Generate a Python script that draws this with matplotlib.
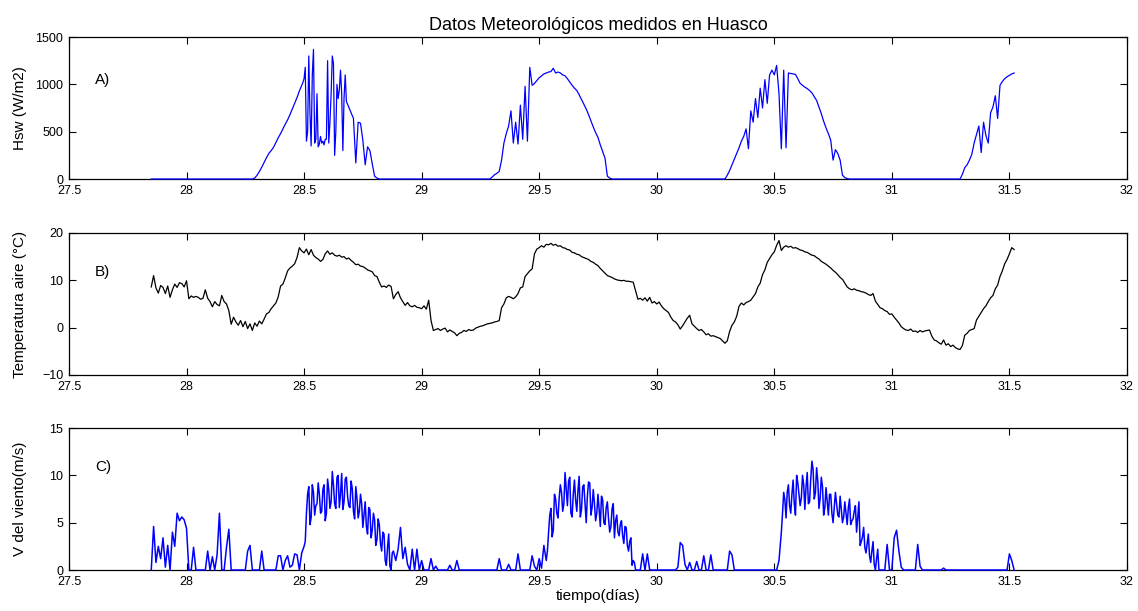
import matplotlib
matplotlib.use('Agg')
import matplotlib.pyplot as plt
import numpy as np

plt.rcParams['font.family'] = ['Liberation Sans', 'DejaVu Sans']

# muestras cada 0.01 dias desde el dia 27.85
t_start = 27.85
dt = 0.01

# radiacion de onda corta (W/m2)
hsw = [
    0, 0, 0, 0, 0, 0, 0, 0, 0, 0,
    0, 0, 0, 0, 0, 0, 0, 0, 0, 0,
    0, 0, 0, 0, 0, 0, 0, 0, 0, 0,
    0, 0, 0, 0, 0, 0, 0, 0, 0, 0,
    0, 0, 0, 0, 10, 40, 80, 125, 175, 225,
    270, 300, 335, 385, 435, 480, 530, 580, 625, 680,
    740, 800, 860, 930, 990, 1060, 400, 1300, 350, 1370,
    420, 340, 450, 400, 420, 1250, 600, 1300, 250, 1000,
    945, 900, 860, 820, 760, 700, 640, 170, 600, 590,
    410, 150, 340, 300, 160, 30, 10, 0, 0, 0,
    0, 0, 0, 0, 0, 0, 0, 0, 0, 0,
    0, 0, 0, 0, 0, 0, 0, 0, 0, 0,
    0, 0, 0, 0, 0, 0, 0, 0, 0, 0,
    0, 0, 0, 0, 0, 0, 0, 0, 0, 0,
    0, 0, 0, 0, 0, 20, 45, 60, 80, 200,
    380, 480, 560, 720, 380, 600, 370, 780, 420, 980,
    400, 1180, 990, 1010, 1040, 1070, 1090, 1110, 1120, 1130,
    1135, 1170, 1120, 1130, 1120, 1100, 1090, 1060, 1025, 990,
    960, 935, 890, 840, 790, 740, 680, 615, 550, 490,
    440, 360, 290, 220, 30, 10, 0, 0, 0, 0,
    0, 0, 0, 0, 0, 0, 0, 0, 0, 0,
    0, 0, 0, 0, 0, 0, 0, 0, 0, 0,
    0, 0, 0, 0, 0, 0, 0, 0, 0, 0,
    0, 0, 0, 0, 0, 0, 0, 0, 0, 0,
    0, 0, 0, 0, 0, 40, 90, 150, 210, 270,
    330, 400, 450, 530, 320, 720, 600, 850, 650, 960,
    750, 1050, 800, 1100, 1150, 1100, 1200, 900, 320, 1150,
    330, 1120, 1115, 1110, 1105, 1060, 1010, 990, 970, 955,
    935, 910, 870, 830, 760, 690, 610, 540, 480, 410,
    200, 310, 270, 200, 40, 15, 5, 0, 0, 0,
    0, 0, 0, 0, 0, 0, 0, 0, 0, 0,
    0, 0, 0, 0, 0, 0, 0, 0, 0, 0,
    0, 0, 0, 0, 0, 0, 0, 0, 0, 0,
    0, 0, 0, 0, 0, 0, 0, 0, 0, 0,
    0, 0, 0, 0, 0, 50, 120, 150, 200, 260,
    380, 470, 560, 280, 600, 460, 380, 700, 760, 880,
    640, 990, 1030, 1060, 1080, 1095, 1110, 1120,
]

# radiacion, muestras intermedias en la zona de nubes del dia 28.5
hsw_mid_start = 28.495
hsw_mid = [1020, 1180, 500, 700, 1100, 380, 900, 370, 380, 360,
           420, 380, 900, 1220, 500, 850, 1150, 300, 1100]

# temperatura del aire (C)
temp = [
    8.6, 11.0, 8.4, 7.3, 8.9, 8.5, 7.2, 8.8, 6.4, 8.0,
    9.2, 8.5, 9.5, 9.3, 8.6, 9.9, 6.1, 6.7, 6.4, 6.6,
    6.4, 6.0, 6.2, 8.0, 6.2, 5.5, 4.4, 5.5, 4.9, 4.6,
    6.8, 5.5, 5.0, 3.6, 0.7, 2.2, 1.2, 0.5, 1.5, 0.2,
    1.3, -0.2, 0.8, -0.6, 1.0, 0.3, 1.4, 0.8, 1.8, 2.9,
    3.2, 4.0, 4.6, 5.2, 6.5, 8.8, 9.2, 10.5, 12.0, 12.6,
    13.0, 13.5, 14.8, 16.9, 16.2, 15.8, 16.6, 15.4, 16.5, 15.3,
    14.8, 14.5, 14.0, 14.4, 15.6, 16.2, 15.5, 15.8, 15.3, 15.1,
    15.3, 14.9, 15.0, 14.5, 14.7, 14.2, 13.8, 13.3, 13.4, 13.0,
    12.9, 12.6, 12.2, 12.0, 11.8, 11.0, 10.8, 9.6, 8.6, 8.8,
    8.5, 9.0, 8.7, 6.1, 7.0, 7.6, 6.3, 5.5, 4.7, 5.3,
    4.6, 4.4, 4.7, 4.3, 4.2, 4.0, 4.6, 3.9, 5.8, 1.5,
    -0.6, -0.4, -0.2, -0.6, -0.3, -0.1, -0.9, -0.5, -0.8, -1.1,
    -1.7, -1.2, -1.0, -0.6, -0.8, -0.4, -0.6, -0.5, -0.1, 0.1,
    0.3, 0.4, 0.6, 0.8, 0.9, 1.0, 1.2, 1.3, 1.5, 4.2,
    5.0, 6.3, 6.6, 6.4, 6.1, 6.5, 7.2, 8.4, 8.6, 10.8,
    11.4, 12.0, 12.4, 15.6, 16.6, 16.9, 17.3, 17.0, 17.6, 17.5,
    17.8, 17.4, 17.6, 17.2, 17.3, 16.9, 16.8, 16.5, 16.4, 15.9,
    15.8, 15.5, 15.4, 15.0, 14.8, 14.6, 14.4, 14.0, 13.8, 13.4,
    13.1, 12.5, 12.0, 11.5, 11.0, 10.8, 10.6, 10.3, 10.1, 10.0,
    9.9, 10.0, 9.8, 9.8, 9.7, 9.6, 7.8, 6.0, 6.2, 5.8,
    6.3, 5.6, 6.4, 5.2, 5.5, 5.0, 5.4, 4.6, 4.0, 3.6,
    3.2, 2.2, 1.5, 1.2, 0.6, -0.3, 0.4, 1.2, 2.0, 2.6,
    0.8, 0.3, -0.2, -0.6, -0.4, -0.9, -1.5, -1.3, -1.8, -1.7,
    -1.9, -2.1, -2.3, -2.8, -3.3, -2.8, -0.8, 0.5, 1.2, 2.4,
    4.5, 5.2, 4.8, 5.3, 5.5, 5.8, 6.5, 7.2, 8.6, 9.4,
    11.2, 12.2, 13.8, 14.6, 15.4, 16.0, 17.4, 18.4, 16.3, 17.0,
    17.3, 17.0, 17.2, 16.8, 16.9, 16.7, 16.4, 16.3, 16.0, 15.9,
    15.6, 15.3, 15.2, 14.8, 14.5, 14.0, 13.7, 13.4, 13.0, 12.6,
    12.1, 11.7, 11.2, 10.6, 10.2, 9.4, 8.6, 8.2, 8.0, 8.2,
    7.9, 7.8, 7.6, 7.5, 7.3, 7.0, 6.8, 7.2, 5.6, 4.9,
    4.2, 4.0, 3.6, 3.4, 2.8, 2.9, 2.2, 1.6, 1.0, 0.2,
    -0.2, -0.5, -0.6, -0.3, -0.8, -0.7, -1.0, -0.6, -0.9, -0.7,
    -0.6, -0.5, -1.8, -2.6, -2.8, -3.2, -3.5, -2.6, -3.7, -3.4,
    -4.0, -3.7, -4.2, -4.5, -4.6, -3.8, -1.6, -1.2, -0.6, -0.4,
    -0.2, 1.6, 2.4, 3.2, 4.0, 4.6, 5.5, 6.3, 6.8, 8.2,
    9.0, 10.8, 12.0, 13.5, 14.4, 15.6, 16.9, 16.5,
]

# velocidad del viento (m/s)
wind = [
    0, 4.6, 0.8, 2.5, 1.2, 3.4, 0.3, 2.6, 0, 4.0,
    2.5, 6.0, 5.2, 5.6, 5.3, 4.4, 0, 0, 2.4, 0,
    0, 0, 0, 0, 2.0, 0, 1.4, 0, 1.6, 6.0,
    0, 0, 2.4, 4.3, 0, 0, 0, 0, 0, 0,
    0, 2.0, 2.6, 0, 0, 0, 0, 2.0, 0, 0,
    0, 0, 0, 0, 1.5, 1.5, 0, 1.0, 1.5, 0.3,
    0.5, 1.7, 1.6, 0, 1.8, 2.5, 6.0, 8.8, 5.5, 8.2,
    6.8, 9.2, 6.0, 8.5, 5.2, 9.6, 6.5, 10.4, 7.0, 9.8,
    6.6, 10.2, 7.2, 9.8, 6.8, 9.4, 6.2, 8.8, 5.5, 8.0,
    4.5, 7.2, 3.8, 6.4, 4.2, 5.3, 3.2, 4.8, 2.0, 3.8,
    0.5, 3.8, 0, 2.0, 1.0, 2.2, 4.5, 1.2, 2.4, 0.6,
    0, 2.2, 0, 2.2, 0, 1.0, 0, 0, 0, 1.2,
    0, 0.4, 0, 0, 0, 0, 0, 0.5, 0, 0,
    1.0, 0, 0, 0, 0, 0, 0, 0, 0, 0,
    0, 0, 0, 0, 0, 0, 0, 0, 1.2, 0,
    0, 0, 0.6, 0, 0, 0, 1.7, 0, 0, 0,
    0, 0, 1.5, 0.4, 0, 1.2, 0.2, 2.6, 1.0, 4.0,
    6.5, 4.2, 7.5, 5.5, 9.0, 6.2, 10.3, 6.8, 9.8, 5.6,
    9.5, 6.2, 9.9, 6.4, 9.0, 5.0, 9.3, 5.8, 8.5, 5.2,
    8.0, 4.6, 7.4, 4.8, 7.2, 4.0, 6.5, 3.4, 5.8, 3.6,
    5.2, 2.8, 4.5, 2.0, 3.4, 1.0, 0, 0, 0, 1.7,
    0, 1.7, 0, 0, 0, 0, 0, 0, 0, 0,
    0, 0, 0, 0, 0.3, 2.9, 2.6, 0.6, 0, 0.8,
    0, 0, 0.9, 0, 0, 1.5, 0, 0, 1.6, 0,
    0, 0, 0, 0, 0, 0, 2.0, 1.6, 0, 0,
    0, 0, 0, 0, 0, 0, 0, 0, 0, 0,
    0, 0, 0, 0, 0, 0, 0, 1.0, 4.0, 8.2,
    5.5, 9.0, 6.0, 9.5, 5.8, 9.2, 6.8, 10.0, 6.4, 10.3,
    7.2, 11.5, 7.5, 10.8, 6.5, 9.8, 5.8, 8.7, 5.8, 8.0,
    5.0, 8.2, 5.8, 7.8, 5.0, 7.2, 4.8, 7.5, 5.2, 6.2,
    4.0, 7.2, 3.0, 4.5, 1.8, 3.8, 0.8, 3.0, 0, 2.2,
    0, 0, 0, 2.7, 0, 0, 3.4, 4.2, 2.0, 0.3,
    0, 0, 0, 0, 0, 0, 2.7, 0.4, 0, 0,
    0, 0, 0, 0, 0, 0, 0, 0.2, 0, 0,
    0, 0, 0, 0, 0, 0, 0, 0, 0, 0,
    0, 0, 0, 0, 0, 0, 0, 0, 0, 0,
    0, 0, 0, 0, 0, 1.7, 1.0, 0,
]

# viento, muestras intermedias durante las horas de brisa
wind_mid1_start = 28.505
wind_mid1 = [3.0, 8.0, 4.8, 9.0, 5.8, 7.0, 8.0, 6.2, 9.0, 6.0,
             8.5, 7.2, 9.0, 6.5, 10.0, 8.0, 6.4, 9.6, 7.8, 6.6,
             8.6, 5.4, 7.6, 6.2, 7.0, 5.8, 4.6, 6.6, 3.4, 6.0,
             2.6, 5.4, 2.8, 4.0, 1.0, 2.4, 0.4, 1.8]
wind_mid2_start = 29.535
wind_mid2 = [2.0, 5.8, 3.5, 8.0, 6.0, 7.6, 8.2, 7.0, 8.6, 9.4,
             6.0, 8.0, 7.4, 8.4, 5.6, 8.8, 7.0, 7.8, 9.2, 6.6,
             7.0, 6.0, 6.4, 7.8, 5.0, 6.6, 5.4, 4.6, 7.0, 5.2,
             4.0, 4.8, 3.6, 4.6, 2.6, 3.0, 0.5, 0.8]
wind_mid3_start = 30.535
wind_mid3 = [6.0, 7.4, 8.2, 6.8, 8.0, 7.0, 10.0, 8.0, 7.6, 9.0,
             8.8, 7.0, 9.6, 10.6, 8.2, 9.4, 7.6, 8.8, 6.6, 7.2,
             8.0, 6.0, 6.6, 7.0, 5.6, 6.4, 5.6, 6.0, 6.6, 4.8,
             5.4, 6.8, 5.6, 2.6, 3.5, 2.4, 2.8, 1.5, 2.0, 0.6,
             1.2, 0]

xticks = [27.5, 28, 28.5, 29, 29.5, 30, 30.5, 31, 31.5, 32]
xtick_labels = ['27.5', '28', '28.5', '29', '29.5', '30', '30.5', '31', '31.5', '32']


def merge(base_t, base_v, extras):
    # junta la serie base con los tramos de muestras intermedias
    tt = [np.asarray(base_t)]
    vv = [np.asarray(base_v, dtype=float)]
    for start, vals in extras:
        tt.append(start + dt * np.arange(len(vals)))
        vv.append(np.asarray(vals, dtype=float))
    tt = np.concatenate(tt)
    vv = np.concatenate(vv)
    order = np.argsort(tt, kind='stable')
    return tt[order], vv[order]


t = t_start + dt * np.arange(len(hsw))
t_hsw, v_hsw = merge(t, hsw, [(hsw_mid_start, hsw_mid)])
t_wind, v_wind = merge(t, wind, [(wind_mid1_start, wind_mid1),
                                 (wind_mid2_start, wind_mid2),
                                 (wind_mid3_start, wind_mid3)])

fig = plt.figure(figsize=(11.38, 6.11), dpi=100)

left, width, height = 0.0606, 0.9297, 0.2324
ax1 = fig.add_axes([left, 0.7070, width, height])
ax2 = fig.add_axes([left, 0.3863, width, height])
ax3 = fig.add_axes([left, 0.0671, width, height])

ax1.plot(t_hsw, v_hsw, color='#0000ff', lw=0.9, zorder=3, clip_on=False)
ax2.plot(t, temp, color='black', lw=0.9, zorder=3)
ax3.plot(t_wind, v_wind, color='#0000ff', lw=1.1, zorder=3, clip_on=False)

ax1.set_ylim(0, 1500)
ax1.set_yticks([0, 500, 1000, 1500])
ax2.set_ylim(-10, 20)
ax2.set_yticks([-10, 0, 10, 20])
ax3.set_ylim(0, 15)
ax3.set_yticks([0, 5, 10, 15])

for ax in (ax1, ax2, ax3):
    ax.set_xlim(27.5, 32)
    ax.set_xticks(xticks)
    ax.set_xticklabels(xtick_labels)
    ax.tick_params(direction='in', top=True, right=True, length=5, width=0.8,
                   labelsize=9, pad=4)
    for s in ax.spines.values():
        s.set_linewidth(0.9)

ax1.text(27.61, 1050, 'A)', fontsize=11, va='center')
ax2.text(27.61, 11.8, 'B)', fontsize=11, va='center')
ax3.text(27.61, 10.9, 'C)', fontsize=11, va='center')

ax1.set_ylabel('Hsw (W/m2)', fontsize=11)
ax2.set_ylabel('Temperatura aire (°C)', fontsize=11)
ax3.set_ylabel('V del viento(m/s)', fontsize=11)
for ax in (ax1, ax2, ax3):
    ax.yaxis.set_label_coords(-0.040, 0.5)

ax1.set_title('Datos Meteorológicos medidos en Huasco', fontsize=13, pad=5)
ax3.set_xlabel('tiempo(días)', fontsize=11, labelpad=1)

fig.savefig('out.png', dpi=100)
